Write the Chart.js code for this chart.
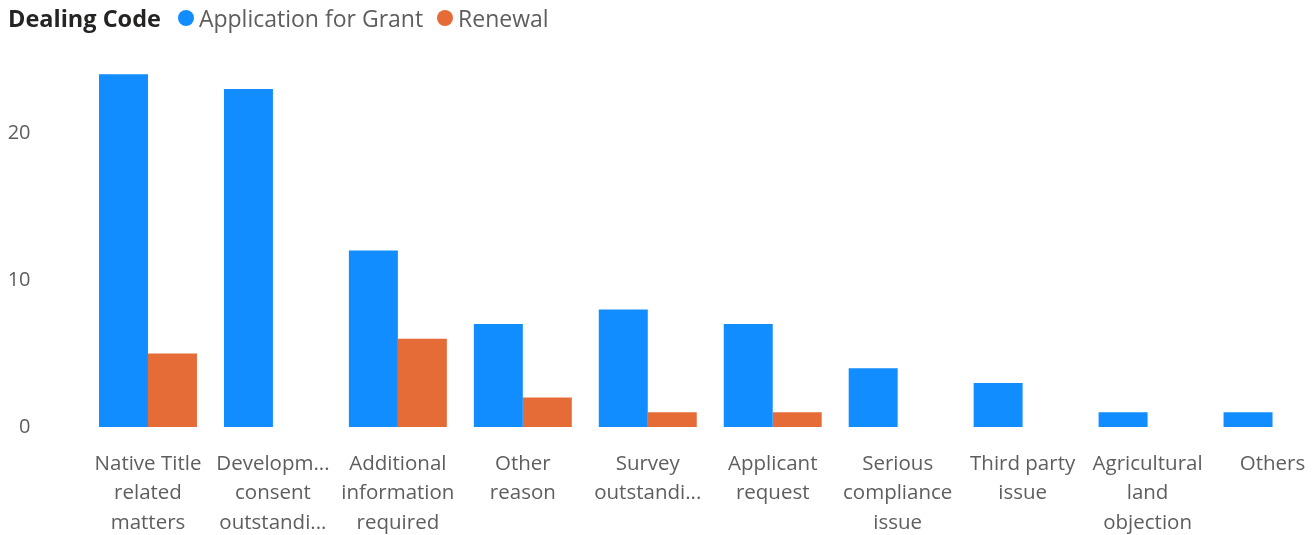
<!DOCTYPE html>
<html>
<head>
<meta charset="utf-8">
<script src="https://cdn.jsdelivr.net/npm/chart.js@4.4.1/dist/chart.umd.min.js"></script>
<style>
  html, body { margin: 0; padding: 0; background: #fff; overflow: hidden; width: 1316px; height: 535px; }
  #wrap { position: relative; width: 1336px; height: 535px; }
  #legend { position: absolute; left: 8px; top: 2px; height: 32px; display: flex; align-items: center;
            font-family: "Open Sans", "Noto Sans", sans-serif; font-size: 23px; color: #605E5C; white-space: nowrap; }
  #legend .title { font-weight: bold; color: #252423; margin-right: 17px; font-size: 23.5px; }
  #legend .dot { display: inline-block; width: 16px; height: 16px; border-radius: 50%; margin-right: 5px; }
  #legend .item { display: flex; align-items: center; margin-right: 14px; }
  canvas { position: absolute; left: 0; top: 0; }
</style>
</head>
<body>
<div id="wrap">
  <canvas id="c" width="1336" height="535"></canvas>
  <div id="legend"></div>
</div>
<script>
const legendTitle = "Dealing Code";
const categories = [
  ["Native Title", "related", "matters"],
  ["Developm...", "consent", "outstandi..."],
  ["Additional", "information", "required"],
  ["Other", "reason"],
  ["Survey", "outstandi..."],
  ["Applicant", "request"],
  ["Serious", "compliance", "issue"],
  ["Third party", "issue"],
  ["Agricultural", "land", "objection"],
  ["Others"]
];
const seriesNames = ["Application for Grant", "Renewal"];
const grantValues = [24, 23, 12, 7, 8, 7, 4, 3, 1, 1];
const renewalValues = [5, null, 6, 2, 1, 1, null, null, null, null];
const seriesColors = ["#118DFF", "#E66C37"];
const yTickValues = [0, 10, 20];
const yMax = 25;

// HTML legend
const legendEl = document.getElementById('legend');
const t = document.createElement('span');
t.className = 'title';
t.textContent = legendTitle;
legendEl.appendChild(t);
seriesNames.forEach((name, i) => {
  const item = document.createElement('span');
  item.className = 'item';
  const dot = document.createElement('span');
  dot.className = 'dot';
  dot.style.background = seriesColors[i];
  const label = document.createElement('span');
  label.textContent = name;
  item.appendChild(dot);
  item.appendChild(label);
  legendEl.appendChild(item);
});

const fontFamily = '"Open Sans", "Noto Sans", sans-serif';

new Chart(document.getElementById('c'), {
  type: 'bar',
  data: {
    labels: categories,
    datasets: [
      { label: seriesNames[0], data: grantValues, backgroundColor: seriesColors[0],
        categoryPercentage: 0.784, barPercentage: 1.0 },
      { label: seriesNames[1], data: renewalValues, backgroundColor: seriesColors[1],
        categoryPercentage: 0.784, barPercentage: 1.0 }
    ]
  },
  options: {
    responsive: false,
    animation: false,
    devicePixelRatio: 1,
    layout: { padding: { top: 59.5, right: 1, bottom: 0, left: 0 } },
    plugins: { legend: { display: false }, tooltip: { enabled: false } },
    scales: {
      x: {
        grid: { display: false, drawTicks: false },
        border: { display: false },
        afterFit: (scale) => { scale.height = 108; scale.paddingLeft = 0; scale.paddingRight = 0; },
        ticks: {
          color: '#605E5C',
          font: { family: fontFamily, size: 20.5, lineHeight: 1.43 },
          padding: 22.5,
          maxRotation: 0,
          autoSkip: false
        }
      },
      y: {
        min: 0,
        max: yMax,
        grid: { display: false, drawTicks: false },
        border: { display: false },
        afterBuildTicks: (axis) => {
          axis.ticks = yTickValues.map(v => ({ value: v }));
        },
        afterFit: (scale) => { scale.width = 85.5; scale.paddingTop = 0; scale.paddingBottom = 0; },
        ticks: {
          color: '#605E5C',
          font: { family: fontFamily, size: 20 },
          padding: 55
        }
      }
    }
  }
});
</script>
</body>
</html>
